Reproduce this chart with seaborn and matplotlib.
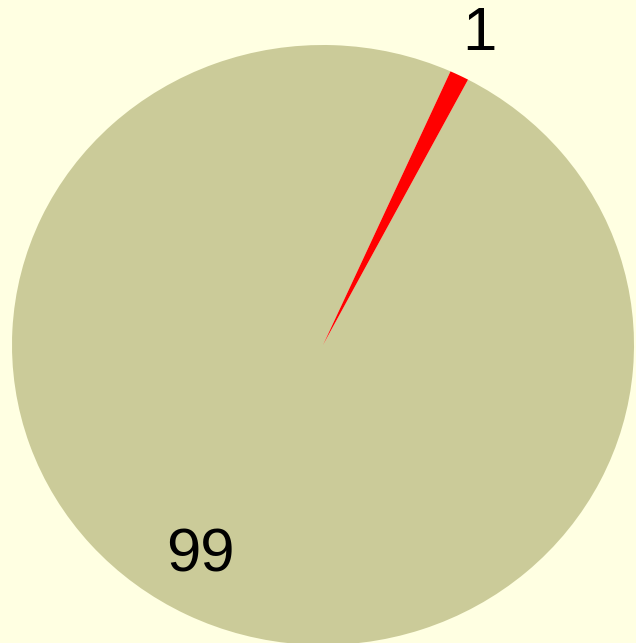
import numpy as np
import matplotlib
matplotlib.use("Agg")
import matplotlib.pyplot as plt
import seaborn as sns

# Data
labels = ["99", "1"]
values = [99, 1]
colors = ["#CBCB99", "#FF0000"]
label_dist = [0.81, 1.15]
label_offset_pt = [(-8.5, 5), (0, 0)]

sns.set_style("white")
plt.rcParams['font.family'] = ['Liberation Sans', 'DejaVu Sans']

fig = plt.figure(figsize=(6.36, 6.43), dpi=100)
fig.patch.set_facecolor("#FFFFE2")
ax = fig.add_axes([12 / 636, -2 / 643, 622 / 636, 600 / 643])
ax.set_facecolor("none")

wedges, _ = ax.pie(values, colors=colors, startangle=65.8, counterclock=True,
                   wedgeprops=dict(linewidth=0, antialiased=True))
for w in wedges:
    w.set_clip_on(False)

for w, lab, d, off in zip(wedges, labels, label_dist, label_offset_pt):
    ang = np.deg2rad((w.theta1 + w.theta2) / 2)
    ax.annotate(lab, xy=(d * np.cos(ang), d * np.sin(ang)), xytext=off,
                textcoords="offset points", ha="center", va="center",
                fontsize=44.5, color="black", annotation_clip=False)

ax.set_aspect("auto")
ax.set_xlim(-1, 1)
ax.set_ylim(-1, 1)
ax.axis("off")

fig.savefig("out.png", dpi=100, facecolor=fig.get_facecolor())
